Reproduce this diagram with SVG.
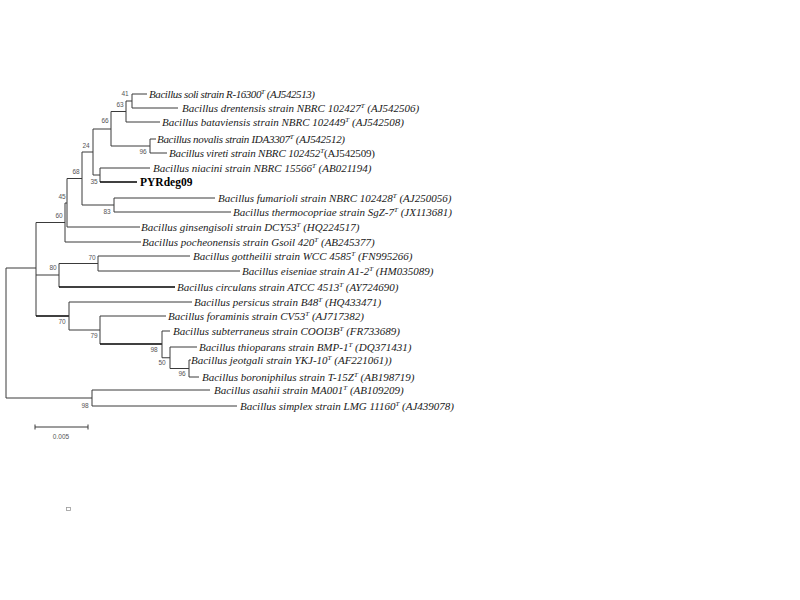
<svg xmlns="http://www.w3.org/2000/svg" width="800" height="600" viewBox="0 0 800 600">
<style>
.br{fill:none;stroke:#3a3a3a;stroke-width:1}
.tk{fill:none;stroke:#000;stroke-width:1.7}
.lf{font-family:"Liberation Serif","Times New Roman",serif;font-style:italic;font-size:11px;fill:#1a1a1a}
.bd{font-family:"Liberation Serif","Times New Roman",serif;font-weight:bold;font-size:11.5px;fill:#000}
.sp{font-size:7px}
.bs{font-family:"Liberation Sans",Arial,sans-serif;font-size:6.5px;fill:#555;text-anchor:middle}
</style>
<rect width="800" height="600" fill="#fff"/>
<g id="connectors">
<path class="br" d="M6,268V398M6,268H36M6,398H92"/>
<path class="br" d="M36,222.5V316M36,222.5H65M36,275H59"/>
<path class="tk" d="M36,316H69"/>
<path class="br" d="M65,203V242M65,242H141M65,203H67"/>
<path class="br" d="M67,178.5V227M67,227H140M67,178.5H82"/>
<path class="br" d="M82,152V205M82,152H93M82,205H114"/>
<path class="br" d="M114,198V212M114,198H215M114,212H231"/>
<path class="br" d="M93,129V175M93,129H111M93,175H100"/>
<path class="br" d="M100,168V182M100,168H150"/>
<path class="tk" d="M100,182H137"/>
<path class="br" d="M111,111.5V146M111,111.5H126M111,146H150"/>
<path class="br" d="M126,101V122M126,101H132M126,122H160"/>
<path class="br" d="M132,94V108M132,94H147M132,108H178"/>
<path class="br" d="M150,139V153M150,139H156M150,153H167"/>
<path class="br" d="M59,263.5V287M59,263.5H98"/>
<path class="tk" d="M59,287H175"/>
<path class="br" d="M98,256V271M98,256H190M98,271H240"/>
<path class="br" d="M69,302V330M69,302H192M69,330H100"/>
<path class="br" d="M100,316V344M100,316H166"/>
<path class="tk" d="M100,344H162"/>
<path class="br" d="M162,331V357.75M162,331H170M162,357.75H170"/>
<path class="br" d="M170,347V368.5M170,347H197M170,368.5H189"/>
<path class="br" d="M189,360V377M189,360H191M189,377H199"/>
<path class="br" d="M92,390V406M92,390H210M92,406H237"/>
</g>
<g id="leaf-soli"><text class="lf" x="149" y="97.5" textLength="166" lengthAdjust="spacing">Bacillus soli strain R-16300<tspan class="sp" dy="-4">T</tspan><tspan dy="4"> (AJ542513)</tspan></text></g>
<g id="leaf-drentensis"><text class="lf" x="182" y="111.5">Bacillus drentensis strain NBRC 102427<tspan class="sp" dy="-4">T</tspan><tspan dy="4"> (AJ542506)</tspan></text></g>
<g id="leaf-bataviensis"><text class="lf" x="162" y="125.5">Bacillus bataviensis strain NBRC 102449<tspan class="sp" dy="-4">T</tspan><tspan dy="4">  (AJ542508)</tspan></text></g>
<g id="leaf-novalis"><text class="lf" x="157" y="142.5" textLength="188" lengthAdjust="spacing">Bacillus novalis strain IDA3307<tspan class="sp" dy="-4">T</tspan><tspan dy="4"> (AJ542512)</tspan></text></g>
<g id="leaf-vireti"><text class="lf" x="169" y="156.5" textLength="206" lengthAdjust="spacing">Bacillus vireti strain NBRC 102452<tspan class="sp" dy="-4">T</tspan><tspan dy="4" font-style="normal">(AJ542509)</tspan></text></g>
<g id="leaf-niacini"><text class="lf" x="153" y="171.5">Bacillus niacini strain NBRC 15566<tspan class="sp" dy="-4">T</tspan><tspan dy="4">  (AB021194)</tspan></text></g>
<g id="leaf-pyrdeg09"><text class="bd" x="140" y="186">PYRdeg09</text></g>
<g id="leaf-fumarioli"><text class="lf" x="218" y="201.5">Bacillus fumarioli strain NBRC 102428<tspan class="sp" dy="-4">T</tspan><tspan dy="4">  (AJ250056)</tspan></text></g>
<g id="leaf-thermocopriae"><text class="lf" x="233" y="215.5">Bacillus thermocopriae strain SgZ-7<tspan class="sp" dy="-4">T</tspan><tspan dy="4">  (JX113681)</tspan></text></g>
<g id="leaf-ginsengisoli"><text class="lf" x="141" y="230.5">Bacillus ginsengisoli strain DCY53<tspan class="sp" dy="-4">T</tspan><tspan dy="4">  (HQ224517)</tspan></text></g>
<g id="leaf-pocheonensis"><text class="lf" x="142" y="245.5">Bacillus pocheonensis strain Gsoil 420<tspan class="sp" dy="-4">T</tspan><tspan dy="4">  (AB245377)</tspan></text></g>
<g id="leaf-gottheilii"><text class="lf" x="193" y="259.5">Bacillus gottheilii strain WCC 4585<tspan class="sp" dy="-4">T</tspan><tspan dy="4">  (FN995266)</tspan></text></g>
<g id="leaf-eiseniae"><text class="lf" x="242" y="274.5">Bacillus eiseniae strain A1-2<tspan class="sp" dy="-4">T</tspan><tspan dy="4"> (HM035089)</tspan></text></g>
<g id="leaf-circulans"><text class="lf" x="177" y="290.5">Bacillus circulans strain ATCC 4513<tspan class="sp" dy="-4">T</tspan><tspan dy="4">  (AY724690)</tspan></text></g>
<g id="leaf-persicus"><text class="lf" x="194" y="305.5">Bacillus persicus strain B48<tspan class="sp" dy="-4">T</tspan><tspan dy="4">  (HQ433471)</tspan></text></g>
<g id="leaf-foraminis"><text class="lf" x="168" y="319.5">Bacillus foraminis strain CV53<tspan class="sp" dy="-4">T</tspan><tspan dy="4">  (AJ717382)</tspan></text></g>
<g id="leaf-subterraneus"><text class="lf" x="173" y="334.5">Bacillus subterraneus strain COOI3B<tspan class="sp" dy="-4">T</tspan><tspan dy="4">  (FR733689)</tspan></text></g>
<g id="leaf-thioparans"><text class="lf" x="199" y="350.5">Bacillus thioparans strain BMP-1<tspan class="sp" dy="-4">T</tspan><tspan dy="4">  (DQ371431)</tspan></text></g>
<g id="leaf-jeotgali"><text class="lf" x="191" y="363.5">Bacillus jeotgali strain YKJ-10<tspan class="sp" dy="-4">T</tspan><tspan dy="4">  (AF221061))</tspan></text></g>
<g id="leaf-boroniphilus"><text class="lf" x="202" y="380.5">Bacillus boroniphilus strain T-15Z<tspan class="sp" dy="-4">T</tspan><tspan dy="4">  (AB198719)</tspan></text></g>
<g id="leaf-asahii"><text class="lf" x="214" y="393.5">Bacillus asahii strain MA001<tspan class="sp" dy="-4">T</tspan><tspan dy="4">  (AB109209)</tspan></text></g>
<g id="leaf-simplex"><text class="lf" x="240" y="409.5">Bacillus simplex strain LMG 11160<tspan class="sp" dy="-4">T</tspan><tspan dy="4">  (AJ439078)</tspan></text></g>
<g id="bootstrap">
<text class="bs" x="125" y="96">41</text>
<text class="bs" x="120" y="107">63</text>
<text class="bs" x="105" y="123">66</text>
<text class="bs" x="143" y="154">96</text>
<text class="bs" x="86" y="148">24</text>
<text class="bs" x="94" y="184">35</text>
<text class="bs" x="76" y="174">68</text>
<text class="bs" x="107" y="214">83</text>
<text class="bs" x="62" y="199">45</text>
<text class="bs" x="59" y="218">60</text>
<text class="bs" x="92" y="260">70</text>
<text class="bs" x="53" y="270">80</text>
<text class="bs" x="62" y="324">70</text>
<text class="bs" x="94" y="338">79</text>
<text class="bs" x="154" y="352">98</text>
<text class="bs" x="162" y="365">50</text>
<text class="bs" x="182" y="376">96</text>
<text class="bs" x="85" y="408">98</text>
</g>
<g id="scale-bar">
<path class="br" d="M35,427H88M35,424.5V429.5M88,424.5V429.5"/>
<text class="bs" x="61" y="439" font-size="6">0.005</text>
</g>
<rect x="66.5" y="507.5" width="4" height="3" fill="none" stroke="#999" stroke-width="0.8"/>
</svg>
